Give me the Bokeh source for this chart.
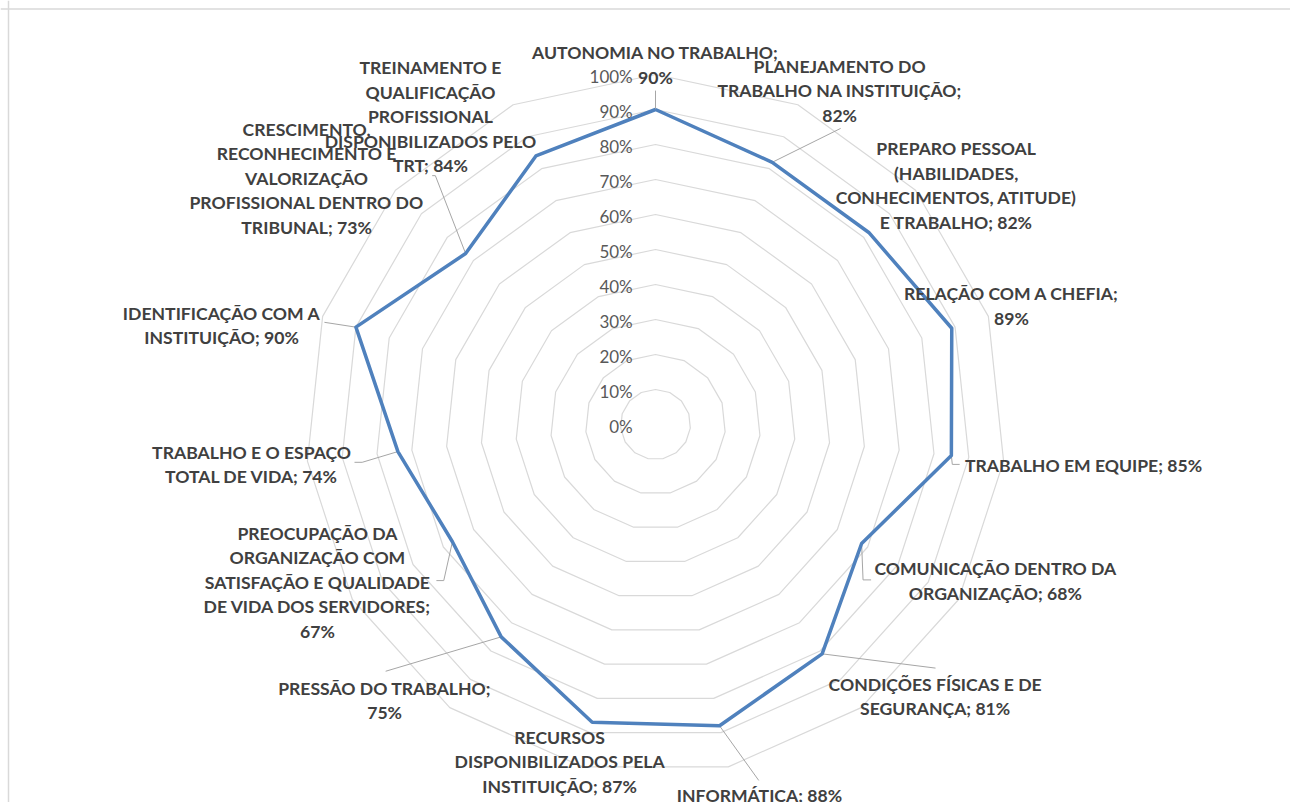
import math
from bokeh.plotting import figure
from bokeh.models import Range1d, Span, ColumnDataSource
from bokeh.embed import file_html
from bokeh.resources import INLINE
from bokeh.core.properties import value

# ---------------- data ----------------
categories = [
    "AUTONOMIA NO TRABALHO",
    "PLANEJAMENTO DO\nTRABALHO NA INSTITUIÇÃO",
    "PREPARO PESSOAL\n(HABILIDADES,\nCONHECIMENTOS, ATITUDE)\nE TRABALHO",
    "RELAÇÃO COM A CHEFIA",
    "TRABALHO EM EQUIPE",
    "COMUNICAÇÃO DENTRO DA\nORGANIZAÇÃO",
    "CONDIÇÕES FÍSICAS E DE\nSEGURANÇA",
    "INFORMÁTICA",
    "RECURSOS\nDISPONIBILIZADOS PELA\nINSTITUIÇÃO",
    "PRESSÃO DO TRABALHO",
    "PREOCUPAÇÃO DA\nORGANIZAÇÃO COM\nSATISFAÇÃO E QUALIDADE\nDE VIDA DOS SERVIDORES",
    "TRABALHO E O ESPAÇO\nTOTAL DE VIDA",
    "IDENTIFICAÇÃO COM A\nINSTITUIÇÃO",
    "CRESCIMENTO,\nRECONHECIMENTO E\nVALORIZAÇÃO\nPROFISSIONAL DENTRO DO\nTRIBUNAL",
    "TREINAMENTO E\nQUALIFICAÇÃO\nPROFISSIONAL\nDISPONIBILIZADOS PELO\nTRT",
]
values = [90, 82, 82, 89, 85, 68, 81, 88, 87, 75, 67, 74, 90, 73, 84]
tick_levels = [0, 10, 20, 30, 40, 50, 60, 70, 80, 90, 100]
tick_labels = ["0%", "10%", "20%", "30%", "40%", "50%", "60%", "70%", "80%", "90%", "100%"]

# ---------------- layout ----------------
value_on_new_line = [True, True, False, True, False, False, False, False,
                     False, True, True, False, False, False, False]
# label block centres (in % units relative to chart centre)
label_pos = [(0, 102.7), (52.6, 95.3), (85.9, 68.3), (101.7, 33.9), (122.3, -11.7),
             (97.1, -44.7), (79.9, -77.7), (29.7, -106.0), (-27.4, -96.3), (-77.4, -78.9),
             (-96.6, -45.1), (-115.4, -11.4), (-124.0, 28.3), (-99.7, 70.4), (-64.3, 88.0)]
# leader lines: category index -> path from the point to the label
leaders = {
    0: [(0, 95.4)],
    1: [(52.9, 84.6)],
    4: [(84.8, -11.4), (86.9, -11.4)],
    5: [(59.3, -44.4), (61.6, -44.4)],
    6: [(80.0, -69.6)],
    7: [(29.5, -101.7)],
    9: [(-77.1, -70.5)],
    10: [(-60.5, -44.6), (-62.6, -44.6)],
    11: [(-83.8, -10.8), (-86.0, -10.8)],
    12: [(-94.6, 29.2)],
    13: [(-62.9, 71.1), (-63.8, 71.1)],
}

W, H = 1290, 802
SCALE = 3.5            # px per % unit
CX, CY = 655, 424      # centre in figure pixels
LINE_H = 24.5
LABEL_FONT = "Lato"

p = figure(width=W, height=H, output_backend="svg", toolbar_location=None,
           x_range=Range1d(-CX / SCALE, (W - CX) / SCALE),
           y_range=Range1d(-(H - CY) / SCALE, CY / SCALE),
           min_border=0, background_fill_color="white", border_fill_color="white")
p.axis.visible = False
p.grid.visible = False
p.outline_line_color = None

n = len(categories)
angles = [math.radians(90 - k * 360 / n) for k in range(n)]

# grid polygons
gx, gy = [], []
for lv in tick_levels[1:]:
    xs = [lv * math.cos(a) for a in angles]
    ys = [lv * math.sin(a) for a in angles]
    gx.append(xs + [xs[0]])
    gy.append(ys + [ys[0]])
p.multi_line(gx, gy, line_color="#D9D9D9", line_width=1.2)

# axis tick labels
p.text(x=[-6.5] * len(tick_levels), y=tick_levels, text=tick_labels,
       text_align="right", text_baseline="middle", y_offset=2,
       text_font=value(LABEL_FONT), text_font_size="17px", text_color="#595959")

# data series
px = [v * math.cos(a) for v, a in zip(values, angles)]
py = [v * math.sin(a) for v, a in zip(values, angles)]

# leader lines
lx, ly = [], []
for i, path in leaders.items():
    lx.append([px[i]] + [q[0] for q in path])
    ly.append([py[i]] + [q[1] for q in path])
p.multi_line(lx, ly, line_color="#A6A6A6", line_width=1)

p.line(px + [px[0]], py + [py[0]], line_color="#4F81BD", line_width=3.5,
       line_join="round")

# data labels
tx, ty, tt, toff = [], [], [], []
for i, (cat, v) in enumerate(zip(categories, values)):
    txt = cat + ";" + ("\n" if value_on_new_line[i] else " ") + f"{v}%"
    lines = txt.split("\n")
    m = len(lines)
    for j, ln in enumerate(lines):
        tx.append(label_pos[i][0])
        ty.append(label_pos[i][1])
        tt.append(ln)
        toff.append((j - (m - 1) / 2) * LINE_H)
src = ColumnDataSource(dict(x=tx, y=ty, text=tt, yo=toff))
p.text(x="x", y="y", text="text", y_offset="yo", source=src,
       text_align="center", text_baseline="middle",
       text_font=value(LABEL_FONT), text_font_size="17.6px",
       text_font_style="bold", text_color="#404040")

# chart border (top and left edges; right/bottom lie outside the picture)
p.add_layout(Span(location=(8 - CX) / SCALE, dimension="height",
                  line_color="#D9D9D9", line_width=1.5))
p.add_layout(Span(location=(CY - 8.5) / SCALE, dimension="width",
                  line_color="#D9D9D9", line_width=1.5))

open("out.html", "w").write(file_html(p, INLINE))
